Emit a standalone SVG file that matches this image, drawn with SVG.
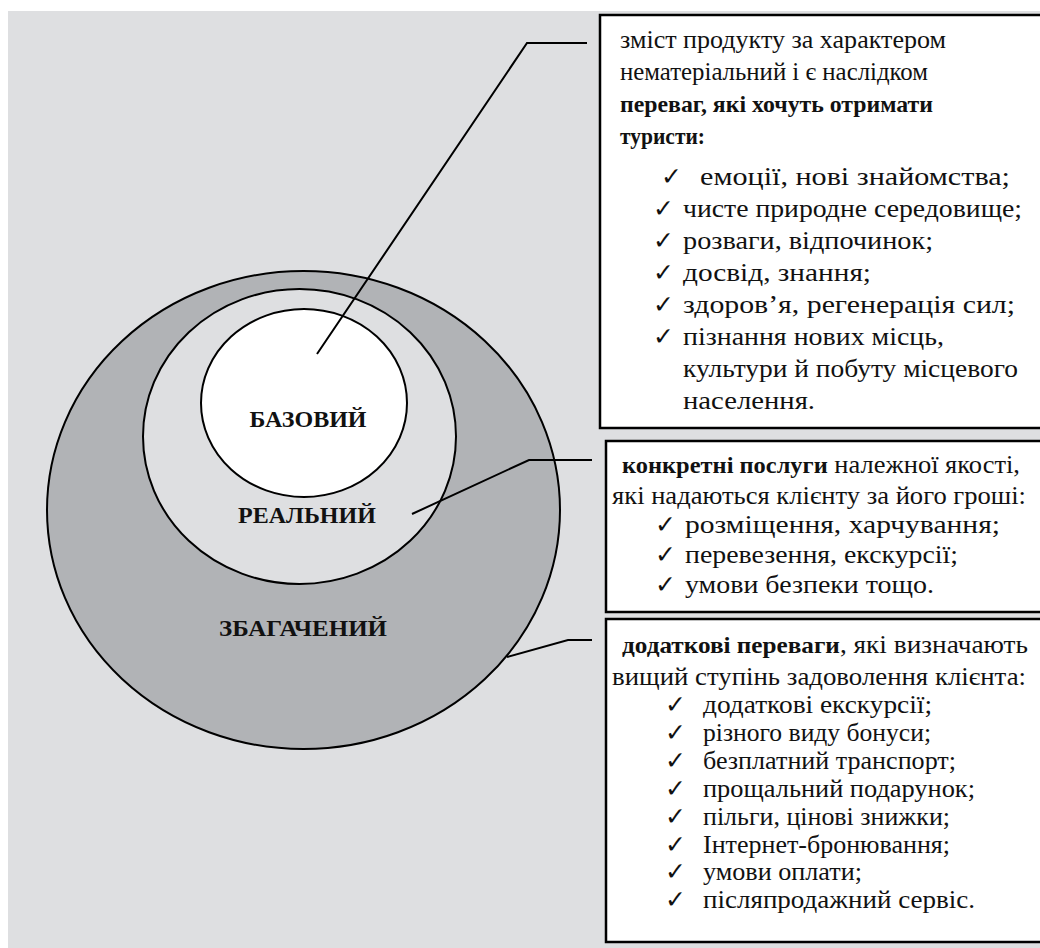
<svg xmlns="http://www.w3.org/2000/svg" width="1040" height="948" viewBox="0 0 1040 948">
<style>
.t{font-family:"Liberation Serif","Times New Roman",serif;font-size:26px;fill:#111}
.b{font-weight:bold;font-size:24px}
.lbl{font-family:"Liberation Serif","Times New Roman",serif;font-size:24px;font-weight:bold;fill:#111;text-anchor:middle}
.ck{font-family:"DejaVu Sans",sans-serif;font-size:25px;fill:#111}
.box{fill:#fff;stroke:#000;stroke-width:2.5}
.ln{fill:none;stroke:#000;stroke-width:2}
</style>
<rect x="0" y="0" width="1040" height="948" fill="#fff"/>
<rect x="8" y="11" width="1032" height="937" fill="#dedfe1"/>
<g id="zbagacheny">
<ellipse cx="303.5" cy="510" rx="256.5" ry="239" fill="#b1b3b6" stroke="#000" stroke-width="2"/>
<text class="lbl" x="303" y="636" textLength="168" lengthAdjust="spacingAndGlyphs">ЗБАГАЧЕНИЙ</text>
</g>
<g id="realny">
<ellipse cx="299.5" cy="436.5" rx="156.5" ry="147.5" fill="#dedfe1" stroke="#000" stroke-width="2"/>
<text class="lbl" x="307" y="523">РЕАЛЬНИЙ</text>
</g>
<g id="bazovy">
<ellipse cx="304" cy="403" rx="103" ry="94" fill="#fff" stroke="#000" stroke-width="2"/>
<text class="lbl" x="308" y="427">БАЗОВИЙ</text>
</g>
<g id="connectors">
<polyline class="ln" points="317,354 527,43 587,43"/>
<polyline class="ln" points="412,514 529,460 592,460"/>
<polyline class="ln" stroke-width="1.5" points="507,657 568,640 592,640"/>
</g>
<g id="box-base">
<rect class="box" x="600" y="15" width="445" height="413"/>
<text class="t" x="620" y="48" textLength="326" lengthAdjust="spacingAndGlyphs">зміст продукту за характером</text>
<text class="t" x="620" y="80" textLength="308" lengthAdjust="spacingAndGlyphs">нематеріальний і є наслідком</text>
<text class="t b" x="620" y="112" textLength="313" lengthAdjust="spacingAndGlyphs">переваг, які хочуть отримати</text>
<text class="t b" x="620" y="144" textLength="85" lengthAdjust="spacingAndGlyphs">туристи:</text>
<text class="ck" x="661" y="185">✓</text><text class="t" x="700" y="185" textLength="310" lengthAdjust="spacingAndGlyphs">емоції, нові знайомства;</text>
<text class="ck" x="653" y="217">✓</text><text class="t" x="683" y="217" textLength="339" lengthAdjust="spacingAndGlyphs">чисте природне середовище;</text>
<text class="ck" x="653" y="249">✓</text><text class="t" x="683" y="249" textLength="250" lengthAdjust="spacingAndGlyphs">розваги, відпочинок;</text>
<text class="ck" x="653" y="281">✓</text><text class="t" x="683" y="281" textLength="188" lengthAdjust="spacingAndGlyphs">досвід, знання;</text>
<text class="ck" x="653" y="313">✓</text><text class="t" x="683" y="313" textLength="332" lengthAdjust="spacingAndGlyphs">здоров’я, регенерація сил;</text>
<text class="ck" x="653" y="345">✓</text><text class="t" x="683" y="345" textLength="261" lengthAdjust="spacingAndGlyphs">пізнання нових місць,</text>
<text class="t" x="683" y="377" textLength="335" lengthAdjust="spacingAndGlyphs">культури й побуту місцевого</text>
<text class="t" x="683" y="409" textLength="132" lengthAdjust="spacingAndGlyphs">населення.</text>
</g>
<g id="box-real">
<rect class="box" x="606" y="441" width="440" height="171"/>
<text class="t" x="622" y="473" textLength="398" lengthAdjust="spacingAndGlyphs"><tspan class="b">конкретні послуги</tspan> належної якості,</text>
<text class="t" x="612" y="504" textLength="414" lengthAdjust="spacingAndGlyphs">які надаються клієнту за його гроші:</text>
<text class="ck" x="655" y="533">✓</text><text class="t" x="685" y="533" textLength="315" lengthAdjust="spacingAndGlyphs">розміщення, харчування;</text>
<text class="ck" x="655" y="563">✓</text><text class="t" x="685" y="563" textLength="273" lengthAdjust="spacingAndGlyphs">перевезення, екскурсії;</text>
<text class="ck" x="655" y="593">✓</text><text class="t" x="685" y="593" textLength="249" lengthAdjust="spacingAndGlyphs">умови безпеки тощо.</text>
</g>
<g id="box-enriched">
<rect class="box" x="606" y="619" width="440" height="323"/>
<text class="t" x="622" y="653" textLength="406" lengthAdjust="spacingAndGlyphs"><tspan class="b">додаткові переваги</tspan>, які визначають</text>
<text class="t" x="612" y="685" textLength="414" lengthAdjust="spacingAndGlyphs">вищий ступінь задоволення клієнта:</text>
<text class="ck" x="665" y="713">✓</text><text class="t" x="703" y="713" textLength="229" lengthAdjust="spacingAndGlyphs">додаткові екскурсії;</text>
<text class="ck" x="665" y="741">✓</text><text class="t" x="703" y="741" textLength="228" lengthAdjust="spacingAndGlyphs">різного виду бонуси;</text>
<text class="ck" x="665" y="769">✓</text><text class="t" x="703" y="769" textLength="253" lengthAdjust="spacingAndGlyphs">безплатний транспорт;</text>
<text class="ck" x="665" y="797">✓</text><text class="t" x="703" y="797" textLength="272" lengthAdjust="spacingAndGlyphs">прощальний подарунок;</text>
<text class="ck" x="665" y="825">✓</text><text class="t" x="703" y="825" textLength="247" lengthAdjust="spacingAndGlyphs">пільги, цінові знижки;</text>
<text class="ck" x="665" y="853">✓</text><text class="t" x="703" y="853" textLength="247" lengthAdjust="spacingAndGlyphs">Інтернет-бронювання;</text>
<text class="ck" x="665" y="880">✓</text><text class="t" x="703" y="880" textLength="159" lengthAdjust="spacingAndGlyphs">умови оплати;</text>
<text class="ck" x="665" y="908">✓</text><text class="t" x="703" y="908" textLength="272" lengthAdjust="spacingAndGlyphs">післяпродажний сервіс.</text>
</g>
</svg>
